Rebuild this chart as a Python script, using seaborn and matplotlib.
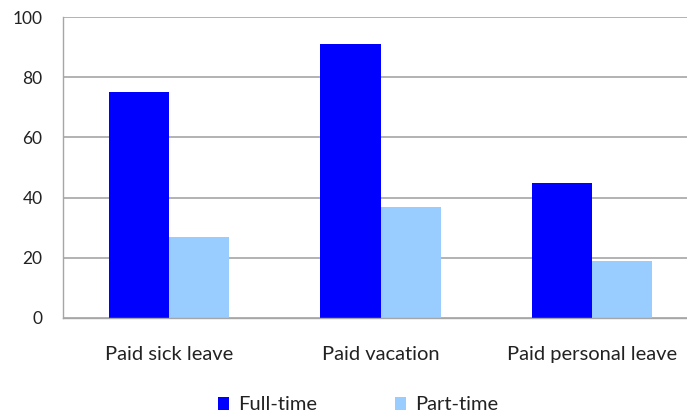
import matplotlib
matplotlib.use("Agg")
import matplotlib.pyplot as plt
import seaborn as sns
import pandas as pd
from matplotlib.patches import Patch

categories = ["Paid sick leave", "Paid vacation", "Paid personal leave"]
full_time = [75, 91, 45]
part_time = [27, 37, 19]
series_names = ["Full-time", "Part-time"]
colors = ["#0000FF", "#99CCFF"]
yticks = [0, 20, 40, 60, 80, 100]

df = pd.DataFrame({
    "category": categories * 2,
    "value": full_time + part_time,
    "series": [series_names[0]] * 3 + [series_names[1]] * 3,
})

sns.set_theme(style="white")
plt.rcParams["font.family"] = ["Lato", "DejaVu Sans"]

fig = plt.figure(figsize=(6.87, 4.17), dpi=100)
ax = fig.add_axes([63.25 / 687, 99 / 417, 634.5 / 687, 301 / 417])

sns.barplot(data=df, x="category", y="value", hue="series", order=categories,
            hue_order=series_names, palette=colors, saturation=1, width=0.57,
            linewidth=0, ax=ax, legend=False)

ax.set_xlim(-0.5, 2.5)
ax.set_ylim(0, 100)
ax.set_yticks(yticks)
ax.set_yticklabels([str(t) for t in yticks])
ax.yaxis.grid(True, color="#A6A6A6", linewidth=1.2)
ax.set_axisbelow(True)
ax.set_xlabel("")
ax.set_ylabel("")
for s in ["top", "right"]:
    ax.spines[s].set_visible(False)
for s in ["left", "bottom"]:
    ax.spines[s].set_color("#A6A6A6")
    ax.spines[s].set_linewidth(1.0)
ax.tick_params(axis="y", length=0, pad=15, labelsize=12.5, labelcolor="#222222")
ax.tick_params(axis="x", length=0, pad=20, labelsize=14.5, labelcolor="#222222")

handles = [Patch(facecolor=c, edgecolor="none") for c in colors]
fig.legend(handles, series_names, loc="center", bbox_to_anchor=(358 / 687, 1 - 405 / 417),
           ncol=2, frameon=False, fontsize=14.5, handlelength=0.55, handleheight=0.6,
           handletextpad=0.45, columnspacing=3.9, labelcolor="#222222")

fig.savefig("out.png", dpi=100)
